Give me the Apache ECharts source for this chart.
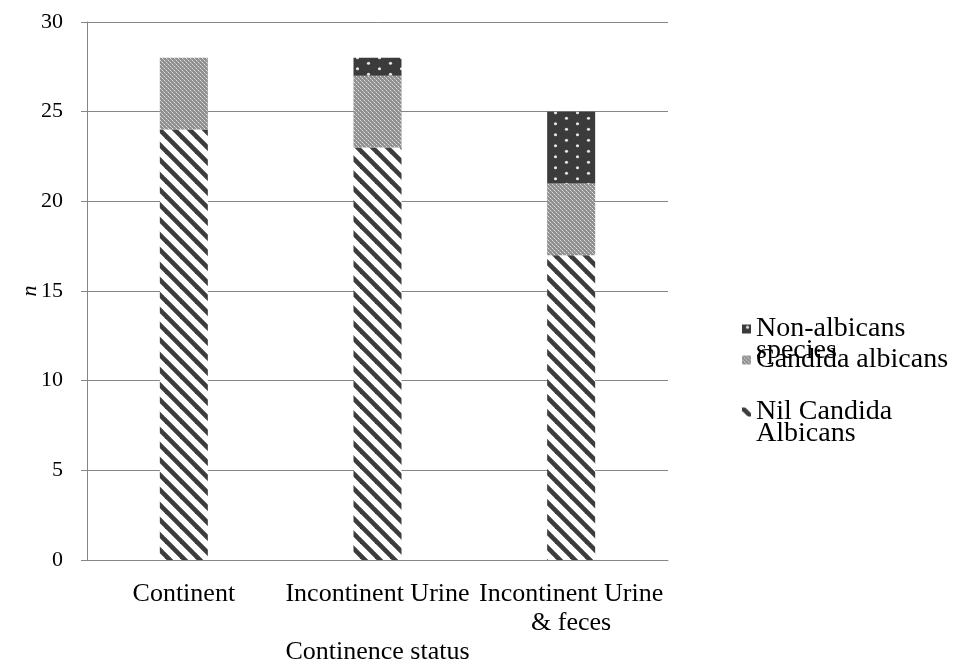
<!DOCTYPE html>
<html>
<head>
<meta charset="utf-8">
<script src="https://cdn.jsdelivr.net/npm/echarts@6/dist/echarts.min.js"></script>
<style>
  html, body { margin: 0; padding: 0; background: #fff; }
  #chart { width: 957px; height: 667px; }
</style>
</head>
<body>
<div id="chart"></div>
<script>
// Categories and counts per continence status
const categories = ['Continent', 'Incontinent Urine', 'Incontinent Urine\n& feces'];
const nilCandida = [24, 23, 17];
const candidaAlbicans = [4, 4, 4];
const nonAlbicans = [0, 1, 4];
const yTicks = { min: 0, max: 30, interval: 5 };

const FONT = "'Liberation Serif', 'Times New Roman', serif";
const AXIS_GREY = '#868686';

// Fill patterns drawn on small canvases
function makeTile(w, h, draw) {
  const c = document.createElement('canvas');
  c.width = w; c.height = h;
  const ctx = c.getContext('2d');
  draw(ctx, w, h);
  return c;
}

const stripeTile = makeTile(15, 15, (ctx, w, h) => {
  ctx.fillStyle = '#ffffff';
  ctx.fillRect(0, 0, w, h);
  ctx.strokeStyle = '#3c3c3c';
  ctx.lineWidth = 4.6;
  for (let k = -1; k <= 1; k++) {
    ctx.beginPath();
    ctx.moveTo(k * w - 2, -2);
    ctx.lineTo(k * w + w + 2, h + 2);
    ctx.stroke();
  }
});

const checkTile = makeTile(4, 4, (ctx, w, h) => {
  ctx.fillStyle = '#909090';
  ctx.fillRect(0, 0, w, h);
  ctx.fillStyle = '#e0e0e0';
  ctx.fillRect(0, 0, 1, 1);
  ctx.fillRect(2, 2, 1, 1);
  ctx.fillStyle = '#b8b8b8';
  ctx.fillRect(1, 1, 1, 1);
  ctx.fillRect(3, 3, 1, 1);
});

const dotTile = makeTile(22, 11, (ctx, w, h) => {
  ctx.fillStyle = '#3b3b3b';
  ctx.fillRect(0, 0, w, h);
  ctx.fillStyle = '#e4e4e4';
  [[5.5, 2.75], [16.5, 8.25]].forEach(([x, y]) => {
    ctx.beginPath();
    ctx.arc(x, y, 1.6, 0, Math.PI * 2);
    ctx.fill();
  });
});

const pattern = (tile) => ({ image: tile, repeat: 'repeat' });

const LEGEND_LINE = 22;
const legendText = {
  fontFamily: FONT, fontSize: 28, color: '#000', lineHeight: LEGEND_LINE
};

// One legend per entry so each icon sits beside the first line of its label
function legendAt(name, iconCenterY, label) {
  const lines = label.split('\n').length;
  // a leading blank line keeps the first text line level with the icon
  const text = lines > 1 ? '\n' + label : label;
  const half = (lines > 1 ? 3 : 1) * LEGEND_LINE / 2;
  return {
    data: [name],
    orient: 'vertical',
    left: 742,
    top: iconCenterY - half,
    padding: 0,
    itemWidth: 9,
    itemHeight: 9,
    itemGap: 0,
    icon: 'rect',
    selectedMode: false,
    formatter: () => text,
    textStyle: legendText
  };
}

const chart = echarts.init(document.getElementById('chart'), null, { renderer: 'canvas' });

chart.setOption({
  animation: false,
  backgroundColor: '#ffffff',
  textStyle: { fontFamily: FONT },
  grid: {
    left: 87, right: 289, top: 22, bottom: 107,
    containLabel: false, outerBoundsMode: 'none'
  },
  legend: [
    legendAt('Non-albicans species', 326, 'Non-albicans\nspecies'),
    legendAt('Candida albicans', 357, 'Candida albicans'),
    legendAt('Nil Candida Albicans', 409, 'Nil Candida\nAlbicans')
  ],
  xAxis: {
    type: 'category',
    data: categories,
    name: 'Continence status',
    nameLocation: 'middle',
    nameGap: 79,
    nameMoveOverlap: false,
    nameTextStyle: { fontFamily: FONT, fontSize: 26, color: '#000' },
    axisLine: { show: true, lineStyle: { color: AXIS_GREY, width: 1 } },
    axisTick: { show: false },
    axisLabel: {
      fontFamily: FONT, fontSize: 26, color: '#000', lineHeight: 29,
      margin: 20, interval: 0
    }
  },
  yAxis: {
    type: 'value',
    min: yTicks.min,
    max: yTicks.max,
    interval: yTicks.interval,
    name: 'n',
    nameLocation: 'middle',
    nameRotate: 90,
    nameGap: 46,
    nameMoveOverlap: false,
    nameTextStyle: { fontFamily: FONT, fontSize: 22, fontStyle: 'italic', color: '#000' },
    axisLine: { show: true, lineStyle: { color: AXIS_GREY, width: 1 } },
    axisTick: { show: true, inside: false, length: 6, lineStyle: { color: AXIS_GREY } },
    axisLabel: { fontFamily: FONT, fontSize: 22, color: '#000', margin: 24 },
    splitLine: { show: true, lineStyle: { color: AXIS_GREY, width: 1 } }
  },
  series: [
    {
      name: 'Nil Candida Albicans',
      type: 'bar',
      stack: 'n',
      barWidth: 48,
      data: nilCandida,
      itemStyle: { color: pattern(stripeTile) }
    },
    {
      name: 'Candida albicans',
      type: 'bar',
      stack: 'n',
      barWidth: 48,
      data: candidaAlbicans,
      itemStyle: { color: pattern(checkTile) }
    },
    {
      name: 'Non-albicans species',
      type: 'bar',
      stack: 'n',
      barWidth: 48,
      data: nonAlbicans,
      itemStyle: { color: pattern(dotTile) }
    }
  ]
});
</script>
</body>
</html>
